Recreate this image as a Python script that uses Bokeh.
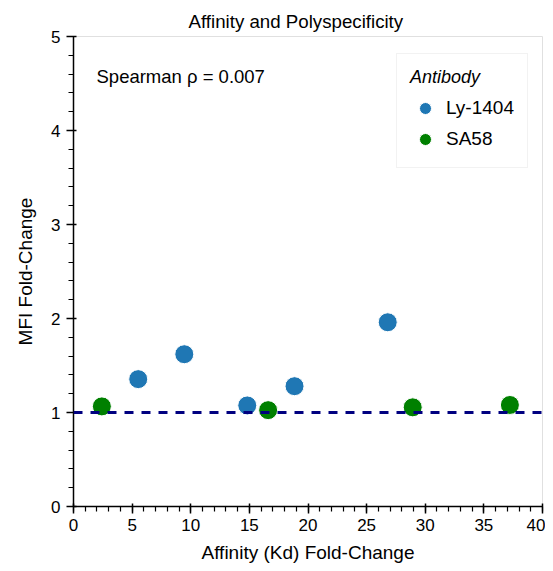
from bokeh.plotting import figure
from bokeh.models import Span, Label, Legend, LegendItem, FixedTicker
from bokeh.embed import file_html
from bokeh.resources import INLINE

# Data
ly_x = [5.52, 9.45, 14.82, 18.85, 26.8]
ly_y = [1.355, 1.62, 1.075, 1.28, 1.96]
sa_x = [2.42, 16.6, 28.93, 37.22]
sa_y = [1.065, 1.025, 1.055, 1.08]
x_ticks = [0, 5, 10, 15, 20, 25, 30, 35, 40]
y_ticks = [0, 1, 2, 3, 4, 5]

FONT = "Liberation Sans"

p = figure(frame_width=469, frame_height=470,
           x_range=(0, 40), y_range=(0, 5),
           output_backend="svg", toolbar_location=None,
           min_border_left=73, min_border_right=3,
           min_border_top=36, min_border_bottom=57,
           title="Affinity and Polyspecificity")

p.title.text_font = FONT
p.title.text_font_size = "18.7px"
p.title.text_font_style = "normal"
p.title.text_color = "black"
p.title.align = "left"
p.title.offset = 115

p.outline_line_color = "#e0e0e0"
p.outline_line_width = 1
p.grid.visible = False
p.background_fill_color = "white"
p.border_fill_color = "white"

for ax in (p.xaxis[0], p.yaxis[0]):
    ax.axis_line_color = "black"
    ax.axis_line_width = 1.5
    ax.major_tick_line_color = "black"
    ax.minor_tick_line_color = "black"
    ax.major_tick_line_width = 1.5
    ax.minor_tick_line_width = 1.2
    ax.major_tick_out = 7
    ax.major_tick_in = 3
    ax.minor_tick_out = 5
    ax.minor_tick_in = 0
    ax.major_label_text_font = FONT
    ax.major_label_text_font_size = "17px"
    ax.major_label_text_color = "black"
    ax.axis_label_text_font = FONT
    ax.axis_label_text_font_size = "19px"
    ax.axis_label_text_font_style = "normal"
    ax.axis_label_text_color = "black"

p.xaxis.ticker = FixedTicker(ticks=x_ticks, minor_ticks=list(range(0, 41)))
p.yaxis.ticker = FixedTicker(ticks=y_ticks, minor_ticks=[i / 5 for i in range(0, 26)])
p.xaxis.axis_label = "Affinity (Kd) Fold-Change"
p.yaxis.axis_label = "MFI Fold-Change"
p.xaxis.major_label_standoff = 5
p.yaxis.major_label_standoff = 6
p.xaxis.axis_label_standoff = 8
p.yaxis.axis_label_standoff = 12

p.add_layout(Span(location=1, dimension="width", line_color="navy",
                  line_width=3, line_dash="9 8"))

r1 = p.scatter(ly_x, ly_y, size=19, fill_color="#1f77b4", line_color="white", line_width=1)
r2 = p.scatter(sa_x, sa_y, size=19, fill_color="#008000", line_color="white", line_width=1)

legend = Legend(items=[LegendItem(label="Ly-1404", renderers=[r1]),
                       LegendItem(label="SA58", renderers=[r2])],
                location=(323, 338), title="Antibody")
legend.title_text_font = FONT
legend.title_text_font_style = "italic"
legend.title_text_font_size = "18px"
legend.title_text_color = "black"
legend.title_standoff = 5
legend.label_text_font = FONT
legend.label_text_font_size = "19px"
legend.label_text_color = "black"
legend.padding = 13
legend.spacing = 1
legend.glyph_width = 30
legend.glyph_height = 30
legend.label_standoff = 6
legend.border_line_color = "#e6e6e6"
legend.border_line_width = 1
legend.background_fill_alpha = 1
legend.margin = 0
p.add_layout(legend)

p.add_layout(Label(x=23, y=430, x_units="screen", y_units="screen",
                   text="Spearman \u03c1 = 0.007", text_font=FONT,
                   text_color="black",
                   text_font_size="18.5px", text_baseline="middle"))

open("out.html", "w").write(file_html(p, INLINE))
